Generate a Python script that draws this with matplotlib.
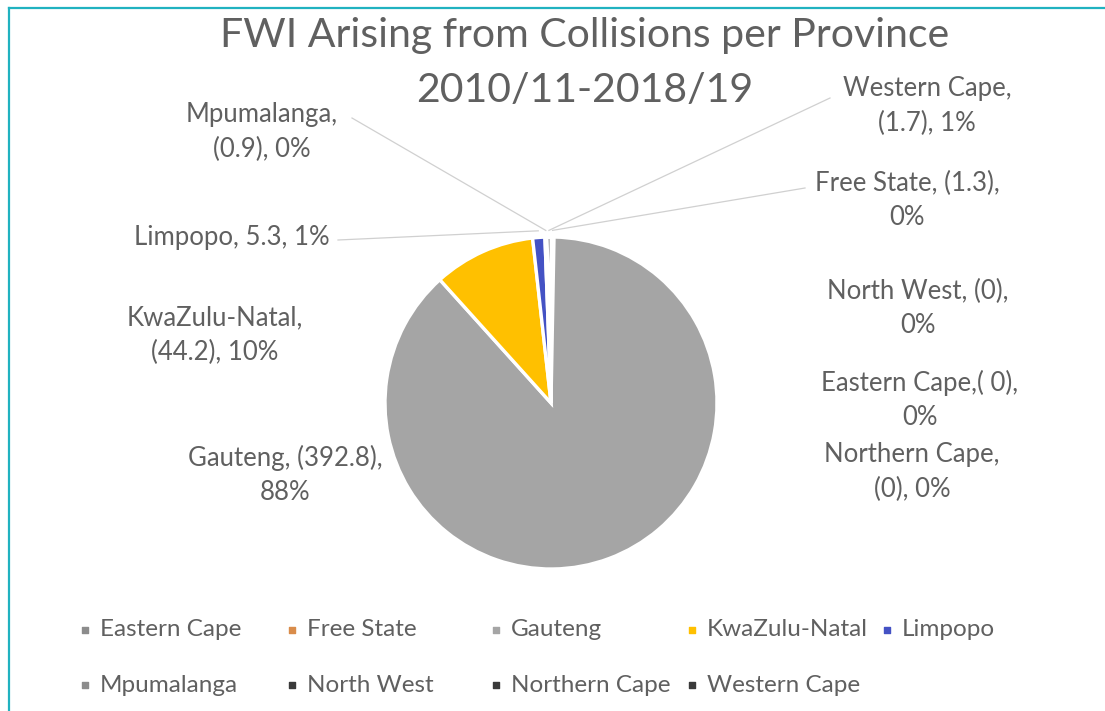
import matplotlib
matplotlib.use("Agg")
import matplotlib.pyplot as plt
import numpy as np

# Fatal / weighted injuries from collisions, per province
provinces = ["Eastern Cape", "Free State", "Gauteng", "KwaZulu-Natal", "Limpopo",
             "Mpumalanga", "North West", "Northern Cape", "Western Cape"]
values = [0.0, 1.3, 392.8, 44.2, 5.3, 0.9, 0.0, 0.0, 1.7]
value_text = ["( 0)", "(1.3)", "(392.8)", "(44.2)", "5.3", "(0.9)", "(0)", "(0)", "(1.7)"]
pct_text = ["0%", "0%", "88%", "10%", "1%", "0%", "0%", "0%", "1%"]
colors = ["#8c8c8c", "#d98c4a", "#a5a5a5", "#ffc000", "#4452c4",
          "#8c8c8c", "#3a3a3a", "#3a3a3a", "#3a3a3a"]

title_lines = ["FWI Arising from Collisions per Province", "2010/11-2018/19"]

W, H = 1105, 711
TXT = "#606060"
FONT = "Lato"
LBL_SIZE = 18.5
LEG_SIZE = 17.5

fig = plt.figure(figsize=(W / 100, H / 100), dpi=100)
fig.patch.set_facecolor("white")
ax = fig.add_axes([0, 0, 1, 1])


def Y(py):
    return H - py


cx, cy, r = 551, Y(403), 166
wedges, _ = ax.pie(values, colors=colors, startangle=90, counterclock=False,
                   center=(cx, cy), radius=r,
                   wedgeprops=dict(edgecolor="white", linewidth=2.4))
ax.set_xlim(0, W)
ax.set_ylim(0, H)
ax.set_aspect("equal")
ax.axis("off")

# label layout: (text centre x, block centre y, line-break style)
label_layout = {
    "Mpumalanga": (262, 132, "name"),
    "Western Cape": (927, 106, "name"),
    "Free State": (907, 200, "val"),
    "Limpopo": (232, 237, None),
    "KwaZulu-Natal": (215, 335, "name"),
    "Gauteng": (285, 475, "val"),
    "North West": (918, 308, "val"),
    "Eastern Cape": (920, 400, "val"),
    "Northern Cape": (912, 472, "name"),
}
# where the leader line leaves the label (pixel coords)
leader_start = {
    "Mpumalanga": (352, 118),
    "Western Cape": (830, 98),
    "Free State": (805, 188),
    "Limpopo": (338, 240),
}

total = sum(values)
cum = np.cumsum([0] + values)
for i, name in enumerate(provinces):
    lx, ly, brk = label_layout[name]
    if brk == "name":
        s = f"{name},\n{value_text[i]}, {pct_text[i]}"
    elif brk == "val":
        sep = "" if name == "Eastern Cape" else " "
        s = f"{name},{sep}{value_text[i]},\n{pct_text[i]}"
    else:
        s = f"{name}, {value_text[i]}, {pct_text[i]}"
    ax.text(lx, Y(ly), s, ha="center", va="center", fontsize=LBL_SIZE, color=TXT,
            family=FONT, linespacing=1.45)
    if name in leader_start:
        mid = (cum[i] + values[i] / 2) / total
        ang = np.deg2rad(90 - 360 * mid)
        ex, ey = cx + r * 1.04 * np.cos(ang), cy + r * 1.04 * np.sin(ang)
        sx, sy = leader_start[name]
        ax.plot([sx, ex], [Y(sy), ey], color="#d0d0d0", lw=0.9, zorder=0)

# title
ax.text(585, Y(35), title_lines[0], ha="center", va="center", fontsize=29.5,
        color=TXT, family=FONT)
ax.text(585, Y(90), title_lines[1], ha="center", va="center", fontsize=29.5,
        color=TXT, family=FONT)

# legend, laid out in two rows
leg_x = [85, 292, 496, 692, 887]
leg_y = [630, 685]
for i, name in enumerate(provinces):
    row, col = divmod(i, 5)
    mx, my = leg_x[col], leg_y[row]
    ax.scatter([mx], [Y(my)], marker="s", s=22, color=colors[i], zorder=3)
    ax.text(mx + 15, Y(my), name, ha="left", va="center", fontsize=LEG_SIZE,
            color=TXT, family=FONT)

# frame lines along the top and left edges
ax.plot([8.5, W], [Y(7.5), Y(7.5)], color="#20b2c0", lw=1.6, clip_on=False)
ax.plot([8.5, 8.5], [Y(7.5), 0], color="#20b2c0", lw=1.6, clip_on=False)

fig.savefig("out.png", dpi=100, facecolor="white")
